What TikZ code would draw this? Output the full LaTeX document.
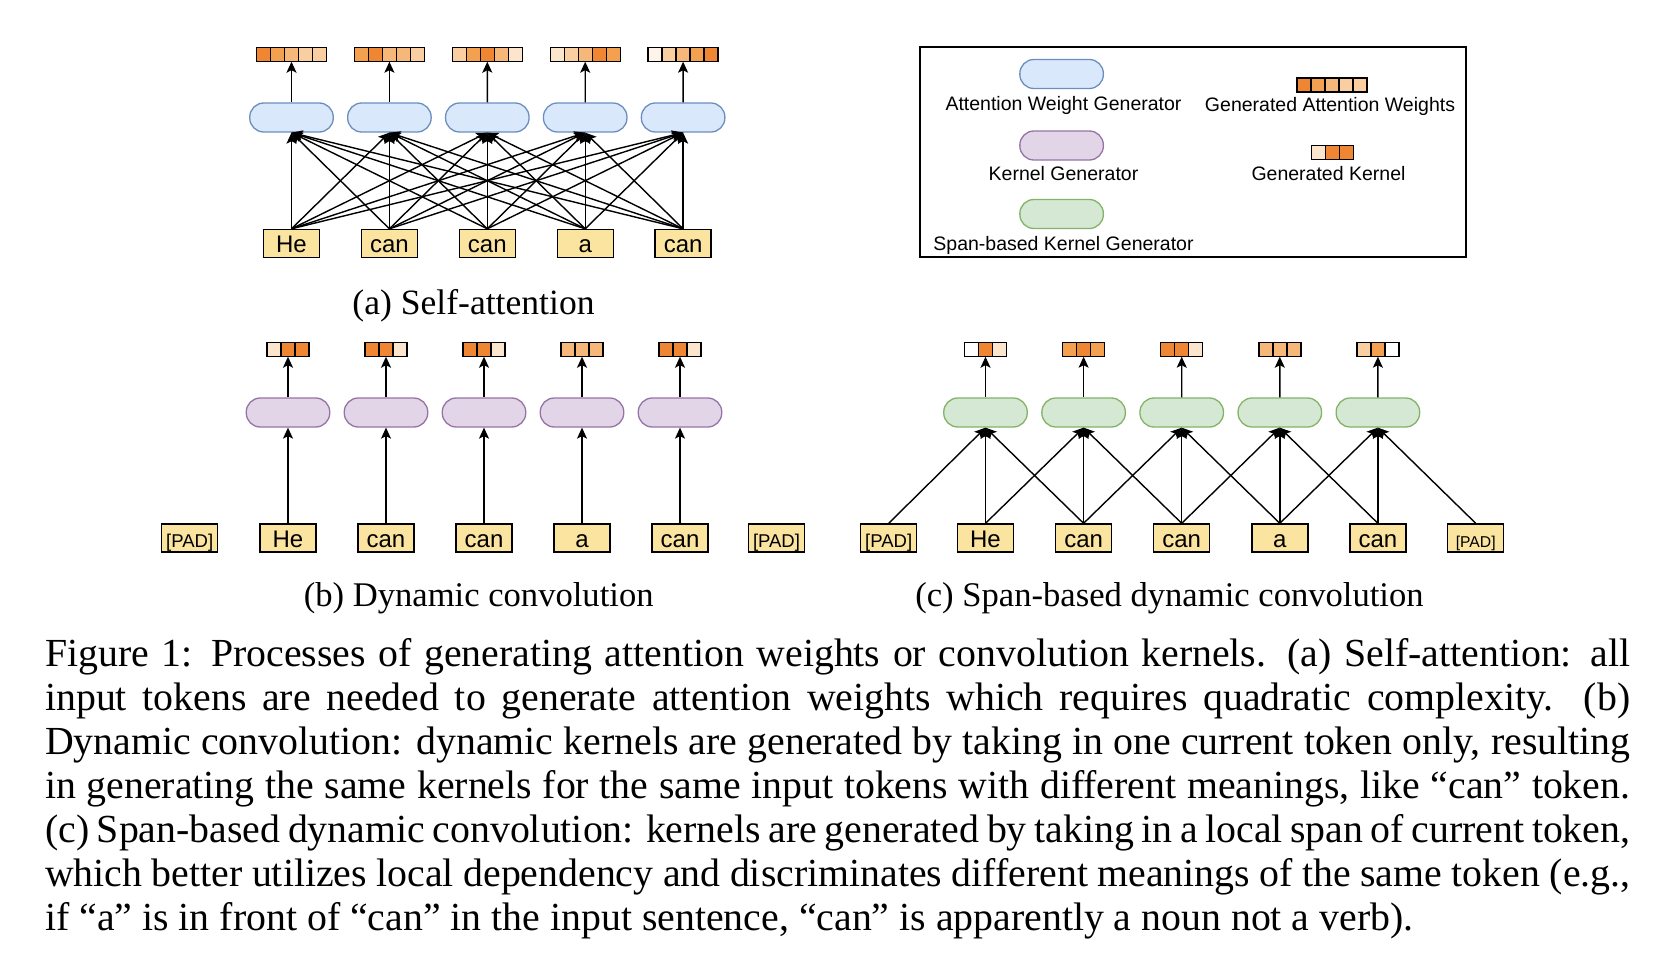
\documentclass[tikz,border=0pt]{standalone}
\usepackage{fontspec}
\setmainfont{Liberation Serif}
\newfontfamily\diagfont{Liberation Sans}
\usetikzlibrary{arrows.meta}
\definecolor{tokfill}{RGB}{250,228,160}
\definecolor{c5}{HTML}{EF8633}
\definecolor{c4}{HTML}{F3A150}
\definecolor{c3}{HTML}{F5B87A}
\definecolor{c2}{HTML}{F9CFA1}
\definecolor{c1}{HTML}{FCE5CD}
\definecolor{c0}{HTML}{FEF4EA}
\definecolor{blueF}{HTML}{DAE8FC}
\definecolor{blueD}{HTML}{6C8EBF}
\definecolor{purpF}{HTML}{E1D5E7}
\definecolor{purpD}{HTML}{9673A6}
\definecolor{greenF}{HTML}{D5E8D4}
\definecolor{greenD}{HTML}{82B366}
\tikzset{
  tok/.style={draw, line width=1.4pt, fill=tokfill, minimum width=56pt, minimum height=28pt,
    inner sep=0pt, font=\diagfont\fontsize{24}{24}\selectfont, text height=18.6pt, text depth=0pt},
  padtok/.style={tok, font=\diagfont\fontsize{18.5}{18.5}\selectfont},
  padtoks/.style={tok, font=\diagfont\fontsize{15.7}{15.7}\selectfont},
  gen/.style={draw, line width=1.3pt, rounded corners=14pt, minimum width=83.5pt, minimum height=29pt, inner sep=0pt},
  genA/.style={gen, fill=blueF, draw=blueD},
  genB/.style={gen, fill=purpF, draw=purpD},
  genC/.style={gen, fill=greenF, draw=greenD},
  arr/.style={-{Stealth[length=11pt,width=10pt,inset=2.5pt]}, line width=1.4pt},
  cell/.style={draw, line width=1.4pt, minimum size=14pt, inner sep=0pt},
  barhull/.style={inner sep=0pt, minimum height=14pt},
  legtxt/.style={font=\diagfont\fontsize{19.5}{19.5}\selectfont, inner sep=0pt, anchor=base},
  subcap/.style={font=\fontsize{35.6}{44}\selectfont, inner sep=0pt, anchor=base},
  subcapb/.style={font=\fontsize{34.6}{44}\selectfont, inner sep=0pt, anchor=base},
  capline/.style={font=\fontsize{39.8}{44}\selectfont, inner sep=0pt, anchor=base west},
  legframe/.style={draw, line width=1.4pt, minimum width=546pt, minimum height=210pt, inner sep=0pt}
}
\newcommand{\cellbar}[5]{% name, x, y, n, colours
  \node[barhull, minimum width=#4*14pt] (#1) at (#2,#3) {};
  \foreach \cc [count=\k] in {#5}
    \node[cell, fill=\cc] at ({#2+(\k-(#4+1)/2)*14},#3) {};
}
\begin{document}
\begin{tikzpicture}[x=1pt,y=-1pt]
\useasboundingbox (0,0) rectangle (1674,966);

% ---------- (a) self-attention ----------
\foreach \w [count=\i] in {He,can,can,a,can} {
  \node[tok] (ta\i) at ({291.5+97.9*(\i-1)},243.5) {\w};
  \node[genA] (ga\i) at ({291.5+97.9*(\i-1)},117.5) {};
}
\cellbar{wa1}{291.5}{54.5}{5}{c5,c4,c3,c2,c2}
\cellbar{wa2}{389.4}{54.5}{5}{c4,c5,c3,c3,c2}
\cellbar{wa3}{487.3}{54.5}{5}{c2,c4,c5,c3,c1}
\cellbar{wa4}{585.2}{54.5}{5}{c1,c2,c3,c5,c4}
\cellbar{wa5}{683.1}{54.5}{5}{c0,c2,c3,c4,c5}
\foreach \i in {1,...,5} {
  \draw[arr] (ga\i.north) -- (wa\i.south);
  \foreach \j in {1,...,5} {
    \draw[arr] (ta\j.north) -- (ga\i.south);
  }
}
\node[subcap] (capa) at (473.5,314) {(a) Self-attention};

% ---------- (b) dynamic convolution ----------
\node[padtok] (tb0) at (189.7,538) {[PAD]};
\node[padtok] (tb6) at (776.5,538) {[PAD]};
\foreach \w [count=\i] in {He,can,can,a,can} {
  \node[tok] (tb\i) at ({288+98*(\i-1)},538) {\w};
  \node[genB] (gb\i) at ({288+98*(\i-1)},412.5) {};
}
\cellbar{kb1}{288}{349.5}{3}{c1,c5,c5}
\cellbar{kb2}{386}{349.5}{3}{c5,c5,c1}
\cellbar{kb3}{484}{349.5}{3}{c5,c5,c1}
\cellbar{kb4}{582}{349.5}{3}{c3,c3,c3}
\cellbar{kb5}{680}{349.5}{3}{c5,c5,c1}
\foreach \i in {1,...,5} {
  \draw[arr] (gb\i.north) -- (kb\i.south);
  \draw[arr] (tb\i.north) -- (gb\i.south);
}
\node[subcapb] (capb) at (478.7,606) {(b) Dynamic convolution};

% ---------- (c) span-based dynamic convolution ----------
\node[padtok] (tc0) at (888.7,538) {[PAD]};
\node[padtoks] (tc6) at (1475.7,538) {[PAD]};
\foreach \w [count=\i] in {He,can,can,a,can} {
  \node[tok] (tc\i) at ({985.5+98.1*(\i-1)},538) {\w};
  \node[genC] (gc\i) at ({985.5+98.1*(\i-1)},412.5) {};
}
\cellbar{kc1}{985.5}{349.5}{3}{white,c5,c1}
\cellbar{kc2}{1083.6}{349.5}{3}{c4,c5,c4}
\cellbar{kc3}{1181.7}{349.5}{3}{c5,c5,c1}
\cellbar{kc4}{1279.8}{349.5}{3}{c3,c3,c3}
\cellbar{kc5}{1377.9}{349.5}{3}{c2,c4,white}
\foreach \i in {1,...,5} {
  \draw[arr] (gc\i.north) -- (kc\i.south);
  \foreach \d in {-1,0,1} {
    \pgfmathtruncatemacro\j{\i+\d}
    \draw[arr] (tc\j.north) -- (gc\i.south);
  }
}
\node[subcapb] (capc) at (1169.5,606) {(c) Span-based dynamic convolution};

% ---------- legend ----------
\node[legframe] (legend) at (1193,152) {};
\node[genA] (lg1) at (1061.6,74) {};
\node[legtxt] (lt1) at (1063.5,110.5) {Attention Weight Generator};
\node[genB] (lg2) at (1061.6,145.5) {};
\node[legtxt] (lt2) at (1063.5,180) {Kernel Generator};
\node[genC] (lg3) at (1061.6,214) {};
\node[legtxt] (lt3) at (1063.5,250) {Span-based Kernel Generator};
\cellbar{lw}{1332}{85}{5}{c5,c4,c3,c2,c2}
\node[legtxt] (lt4) at (1330,111) {Generated Attention Weights};
\cellbar{lk}{1332.7}{152.5}{3}{c1,c5,c5}
\node[legtxt] (lt5) at (1328.5,180) {Generated Kernel};

% ---------- caption ----------
\node[capline] (cap1) at (45,666) {\hbox to 1585pt{Figure 1: Processes of generating attention weights or convolution kernels. (a) Self-attention: all}};
\node[capline] (cap2) at (45,710) {\hbox to 1585pt{input tokens are needed to generate attention weights which requires quadratic complexity. (b)}};
\node[capline] (cap3) at (45,754) {\hbox to 1585pt{Dynamic convolution: dynamic kernels are generated by taking in one current token only, resulting}};
\node[capline] (cap4) at (45,798) {\hbox to 1585pt{in generating the same kernels for the same input tokens with different meanings, like “can” token.}};
\node[capline] (cap5) at (45,842) {\hbox to 1585pt{(c) Span-based dynamic convolution: kernels are generated by taking in a local span of current token,}};
\node[capline] (cap6) at (45,886) {\hbox to 1585pt{which better utilizes local dependency and discriminates different meanings of the same token (e.g.,}};
\node[capline] (cap7) at (45,930) {if “a” is in front of “can” in the input sentence, “can” is apparently a noun not a verb).};
\end{tikzpicture}
\end{document}
